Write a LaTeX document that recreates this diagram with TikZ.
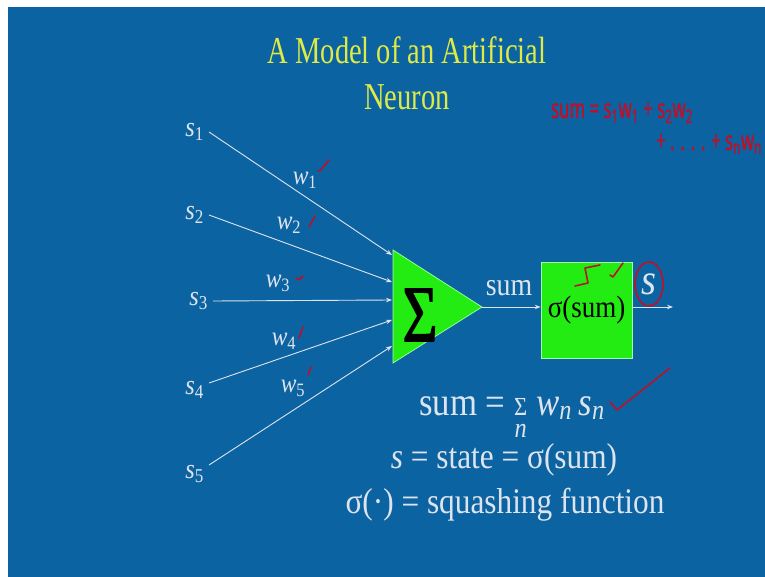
\documentclass[tikz,border=0pt]{standalone}
\usepackage{amsmath}
\usepackage{fontspec}
\newfontfamily\titlefont[FakeStretch=0.75]{Liberation Serif}
\newfontfamily\sigmafont[FakeStretch=0.75, FakeBold=1.5]{Liberation Serif}
\newfontfamily\bodyfont[FakeStretch=0.87]{Liberation Serif}
\newfontfamily\handfont[FakeStretch=0.62, FakeBold=1.2]{Noto Sans}
\usetikzlibrary{arrows.meta,calc}
\definecolor{slideblue}{RGB}{12,99,161}
\definecolor{titleyellow}{RGB}{222,234,70}
\definecolor{chalk}{RGB}{222,228,238}
\definecolor{limegreen}{RGB}{34,236,18}
\definecolor{penred}{RGB}{185,18,42}
\newcommand{\isub}[2]{\textit{#1}\textsubscript{#2}}

\begin{document}
\begin{tikzpicture}[x=1pt, y=-1pt,
  ttl/.style={text=titleyellow, font=\titlefont\fontsize{38}{46}\selectfont, inner sep=0pt, anchor=base},
  inp/.style={text=chalk, font=\bodyfont\fontsize{28}{28}\selectfont, inner sep=1pt, outer sep=4pt, anchor=east},
  wlab/.style={text=chalk, font=\bodyfont\fontsize{27}{27}\selectfont, inner sep=0pt},
  eqn/.style={text=chalk, font=\bodyfont\fontsize{36}{36}\selectfont, inner sep=0pt, anchor=base},
  wire/.style={draw=chalk, line width=0.9pt, -{Stealth[length=6pt, width=4.5pt]}},
  unit/.style={fill=limegreen, draw=green!35!white, line width=0.7pt},
  pen/.style={draw=penred, line width=1.6pt, line cap=round, line join=round},
  hand/.style={text=penred, font=\handfont\fontsize{27}{27}\selectfont, inner sep=0pt, anchor=base}]
  \fill[white] (0,0) rectangle (765,577);
  \fill[slideblue] (8,7) rectangle (765,577);
  \useasboundingbox (0,0) rectangle (765,577);
  % title
  \node[ttl] (ttlA) at (407,64) {A Model of an Artificial};
  \node[ttl] (ttlB) at (407,110) {Neuron};
  % inputs
  \node[inp] (s1) at (209,132) {\isub{s}{1}};
  \node[inp] (s2) at (209,215) {\isub{s}{2}};
  \node[inp] (s3) at (213,301) {\isub{s}{3}};
  \node[inp] (s4) at (209,390) {\isub{s}{4}};
  \node[inp] (s5) at (209,474) {\isub{s}{5}};
  % summing unit
  \coordinate (tri-top) at (393,250);
  \coordinate (tri-bot) at (393,363);
  \coordinate (tri-tip) at (482,307);
  \draw[unit] (tri-top) -- (tri-tip) -- (tri-bot) -- cycle;
  \node[font=\sigmafont\fontsize{80}{80}\selectfont, inner sep=0pt] (sig) at (420,315) {Σ};
  \foreach \k/\y in {1/255,2/282,3/300,4/320,5/346}{\coordinate (t\k) at (392,\y);}
  \draw[wire] (s1.east) -- (t1);
  \draw[wire] (s2.east) -- (t2);
  \draw[wire] (s3.east) -- (t3);
  \draw[wire] ($(s4.east)+(0,-7)$) -- (t4);
  \draw[wire] ($(s5.east)+(0,-9)$) -- (t5);
  % weights
  \node[wlab] (w1) at (305,180) {\isub{w}{1}};
  \node[wlab] (w2) at (289,225) {\isub{w}{2}};
  \node[wlab] (w3) at (278,283) {\isub{w}{3}};
  \node[wlab] (w4) at (284,341) {\isub{w}{4}};
  \node[wlab] (w5) at (293,388) {\isub{w}{5}};
  % squashing unit
  \node[unit, minimum width=91pt, minimum height=96pt, inner sep=0pt,
        font=\bodyfont\fontsize{31}{31}\selectfont] (act) at (586.5,310) {σ(sum)};
  \draw[wire] (tri-tip) -- (tri-tip -| act.west);
  \node[eqn, font=\bodyfont\fontsize{32}{32}\selectfont] (sumlab) at (509,295) {sum};
  \coordinate (outEnd) at (673,307);
  \draw[wire] (tri-tip -| act.east) -- (outEnd);
  \node[text=chalk, font=\bodyfont\fontsize{44}{44}\selectfont, inner sep=0pt] (sout) at (649,284) {\textit{s}};
  % equations
  \node[eqn, font=\bodyfont\fontsize{40}{40}\selectfont] (eq1) at (512,415)
    {sum = $\mathop{\text{\fontsize{26}{26}\selectfont Σ}}\limits_{\text{\raisebox{-8pt}[0pt][0pt]{\itshape n}}}$ \isub{w}{\textit{n}}\,\isub{s}{\textit{n}}};
  \node[eqn] (eq2) at (504,468) {\textit{s} = state = σ(sum)};
  \node[eqn] (eq3) at (505,513) {σ(·) = squashing function};
  % red pen notes
  \node[hand] (note1) at (622,118) {sum = s\textsubscript{1}w\textsubscript{1} + s\textsubscript{2}w\textsubscript{2}};
  \node[hand, anchor=base east] (note2) at (762,150) {+ . . . . + s\textsubscript{n}w\textsubscript{n}};
  \draw[pen] (318,171) -- (321,170) -- (329,160);
  \draw[pen] (309,227) -- (315,216);
  \draw[pen] (296,278) -- (299,280) -- (303,276);
  \draw[pen] (299,338) -- (303,327);
  \draw[pen] (308,375) -- (311,367);
  \draw[pen] (575,286) -- (588,283) -- (585,268) -- (600,265);
  \draw[pen] (610,275) -- (613,277) -- (623,263);
  \draw[pen] (sout.center) ellipse [x radius=14pt, y radius=22pt];
  \draw[pen] (610,402) -- (617,410) -- (670,368);
\end{tikzpicture}
\end{document}
